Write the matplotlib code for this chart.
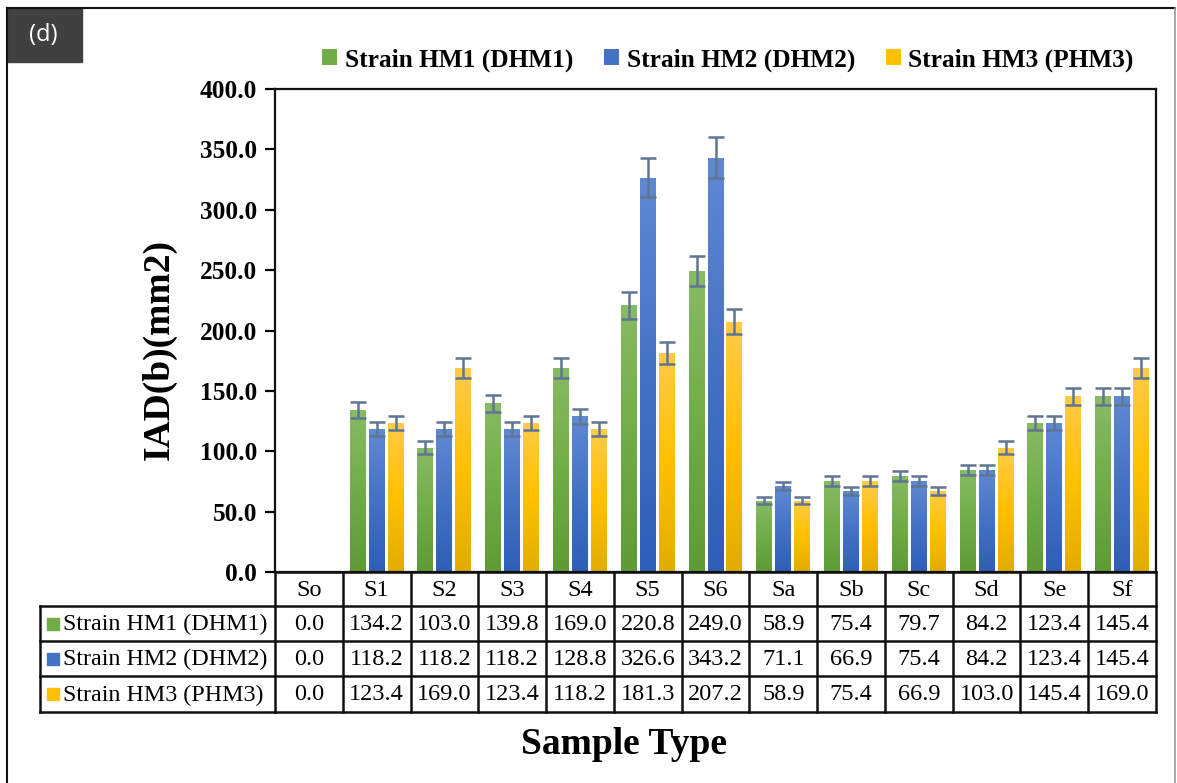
import numpy as np
import matplotlib
matplotlib.use("Agg")
import matplotlib.pyplot as plt
import matplotlib.transforms as mtransforms
from matplotlib.colors import LinearSegmentedColormap
from matplotlib.patches import Patch, Rectangle

# sample types and measured IAD(b) values (mm2)
samples = ["So", "S1", "S2", "S3", "S4", "S5", "S6", "Sa", "Sb", "Sc", "Sd", "Se", "Sf"]
series = ["Strain HM1 (DHM1)", "Strain HM2 (DHM2)", "Strain HM3 (PHM3)"]
hm1 = [0.0, 134.2, 103.0, 139.8, 169.0, 220.8, 249.0, 58.9, 75.4, 79.7, 84.2, 123.4, 145.4]
hm2 = [0.0, 118.2, 118.2, 118.2, 128.8, 326.6, 343.2, 71.1, 66.9, 75.4, 84.2, 123.4, 145.4]
hm3 = [0.0, 123.4, 169.0, 123.4, 118.2, 181.3, 207.2, 58.9, 75.4, 66.9, 103.0, 145.4, 169.0]
# error bar half-widths
hm1_err = [0.0, 6.7, 5.2, 7.0, 8.5, 11.0, 12.5, 2.9, 3.8, 4.0, 4.2, 6.2, 7.3]
hm2_err = [0.0, 5.9, 5.9, 5.9, 6.4, 16.3, 17.2, 3.6, 3.3, 3.8, 4.2, 6.2, 7.3]
hm3_err = [0.0, 6.2, 8.5, 6.2, 5.9, 9.1, 10.4, 2.9, 3.8, 3.3, 5.2, 7.3, 8.5]
yticks = [0, 50, 100, 150, 200, 250, 300, 350, 400]

W, H = 1177, 783
SERIF = "Liberation Serif"
base_colors = ["#70AD47", "#4472C4", "#FFC000"]
grad_colors = [["#88BB65", "#70AD47", "#5E9B35"],
               ["#6089D3", "#4472C4", "#2E5EB6"],
               ["#FFCB48", "#FFC000", "#E2AD00"]]

fig = plt.figure(figsize=(W / 100, H / 100), dpi=100)

# pixel-space overlay for frame, table and labels
ovl = fig.add_axes([0, 0, 1, 1], zorder=5)
ovl.set_xlim(0, W)
ovl.set_ylim(H, 0)
ovl.axis("off")
ovl.patch.set_alpha(0)

px_left, px_right, px_top, px_bottom = 275, 1156, 89, 572
ax = fig.add_axes([px_left / W, 1 - px_bottom / H,
                   (px_right - px_left) / W, (px_bottom - px_top) / H])

x = np.arange(len(samples))
width = 0.236
step = 0.28
grad = np.linspace(0, 1, 256).reshape(-1, 1)

data = [hm1, hm2, hm3]
errs = [hm1_err, hm2_err, hm3_err]
for i, (vals, err) in enumerate(zip(data, errs)):
    cmap = LinearSegmentedColormap.from_list(f"g{i}", grad_colors[i])
    bars = ax.bar(x + (i - 1) * step, vals, width, color=base_colors[i], zorder=2)
    for b in bars:
        bx, by = b.get_xy()
        bw, bh = b.get_width(), b.get_height()
        if bh <= 0:
            continue
        im = ax.imshow(grad, extent=[bx, bx + bw, by, by + bh], aspect="auto",
                       cmap=cmap, zorder=2.1)
        im.set_clip_path(b)
    v = np.array(vals)
    e = np.array(err)
    m = v > 0
    ax.errorbar(x[m] + (i - 1) * step, v[m], yerr=e[m], fmt="none",
                ecolor="#5E7593", elinewidth=1.8, capsize=6, capthick=1.8, zorder=3)

ax.set_xlim(-0.5, len(samples) - 0.5)
ax.set_ylim(0, 400)
ax.set_aspect("auto")
ax.set_xticks([])
ax.set_yticks(yticks)
ax.set_yticklabels([f"{t:.1f}" for t in yticks], fontfamily=SERIF,
                   fontweight="bold", fontsize=18.3)
ax.tick_params(axis="y", length=7, width=1.6, pad=6)
for s in ax.spines.values():
    s.set_linewidth(1.6)
    s.set_color("#111111")

# data table under the axis, columns follow the category positions
blend = mtransforms.blended_transform_factory(ax.transData, ovl.transData)
row_y = [572, 606, 641, 676, 712]
tab_left = 40
lc = "#111111"
lw = 1.8
edges = np.arange(len(samples) + 1) - 0.5
for e in edges:
    ovl.plot([e, e], [row_y[0], row_y[-1]], color=lc, lw=lw, transform=blend,
             clip_on=False, solid_capstyle="projecting")
for k, yy in enumerate(row_y):
    ovl.plot([edges[0], edges[-1]], [yy, yy], color=lc, lw=lw, transform=blend,
             clip_on=False)
    if k >= 1:
        ovl.plot([tab_left, px_left], [yy, yy], color=lc, lw=lw, clip_on=False)
ovl.plot([tab_left, tab_left], [row_y[1], row_y[-1]], color=lc, lw=lw, clip_on=False)

for j, name in enumerate(samples):
    ovl.text(j, (row_y[0] + row_y[1]) / 2 + 1, name, transform=blend, ha="center",
             va="center", fontfamily=SERIF, fontsize=17.5)
for r, (vals, name) in enumerate(zip(data, series)):
    yc = (row_y[r + 1] + row_y[r + 2]) / 2 + 1
    for j, v in enumerate(vals):
        ovl.text(j, yc, f"{v:.1f}", transform=blend, ha="center", va="center",
                 fontfamily=SERIF, fontsize=17.5)
    ovl.add_patch(Rectangle((47, yc - 7), 12, 12, color=base_colors[r]))
    ovl.text(63, yc, name, ha="left", va="center", fontfamily=SERIF, fontsize=17.3)

# axis titles
ovl.text(159, 350, "IAD(b)(mm2)", rotation=90, ha="center", va="center",
         fontfamily=SERIF, fontweight="bold", fontsize=27)
ovl.text(624, 744, "Sample Type", ha="center", va="center",
         fontfamily=SERIF, fontweight="bold", fontsize=27)

# legend
handles = [Patch(facecolor=c, edgecolor="none") for c in base_colors]
fig.legend(handles, series, loc="center", bbox_to_anchor=(728 / W, 1 - 60 / H),
           ncol=3, frameon=False, handlelength=0.6, handleheight=0.6,
           handletextpad=0.3, columnspacing=1.2,
           prop={"family": SERIF, "weight": "bold", "size": 18.3})

# panel frame and tag
ovl.plot([7, 7], [8, H], color="#111111", lw=1.5, clip_on=False)
ovl.plot([7, 1175], [8, 8], color="#111111", lw=1.5, clip_on=False)
ovl.plot([1175, 1175], [8, H], color="#999999", lw=1.2, clip_on=False)
ovl.add_patch(Rectangle((7, 8), 75, 54, color="#404040"))
ovl.text(43, 35, "(d)", color="white", ha="center", va="center",
         fontfamily="Open Sans", fontsize=17)

fig.savefig("out.png", dpi=100)
